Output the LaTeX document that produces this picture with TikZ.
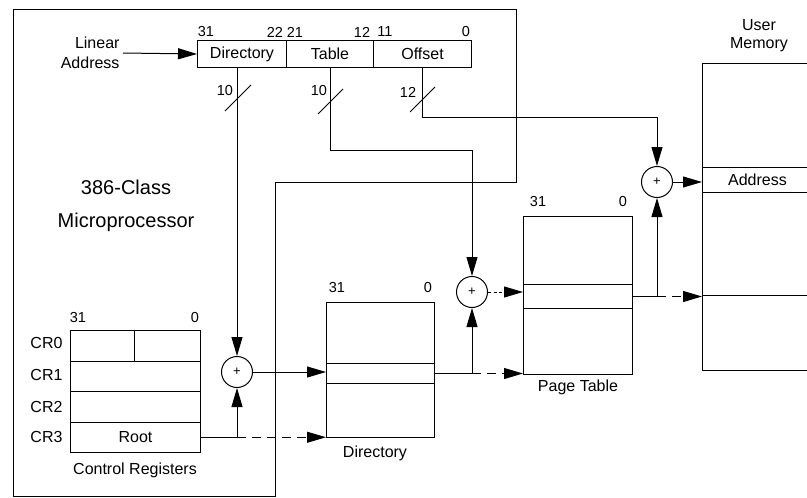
\documentclass[tikz,border=0pt]{standalone}
\usepackage{fontspec}
\setmainfont{Liberation Sans}
\usetikzlibrary{arrows.meta,calc}
\begin{document}
\begin{tikzpicture}[x=1pt,y=-1pt,
  line width=1pt,
  txt/.style={font=\fontsize{16}{18}\selectfont, inner sep=0pt},
  num/.style={font=\fontsize{14.5}{16}\selectfont, inner sep=0pt},
  cell/.style={draw, inner sep=0pt, anchor=north west, font=\fontsize{16}{18}\selectfont},
  sum/.style={draw, circle, minimum size=31pt, inner sep=0pt, font=\fontsize{13}{13}\selectfont},
  arr/.style={-{Triangle[length=19pt,width=11pt]}},
  dsh/.style={dash pattern=on 9pt off 6pt},
  dot/.style={dash pattern=on 3pt off 2.5pt}
]
\useasboundingbox (0,0) rectangle (807,498);
\clip (0,0) rectangle (807,498);

% microprocessor boundary
\draw (13,9) -- (516,9) -- (516,182) -- (275,182) -- (275,496) -- (13,496) -- cycle;
\node[font=\fontsize{20}{33}\selectfont, align=center, inner sep=0pt] (cpu) at (126,206) {386-Class\\Microprocessor};

% linear address
\node[cell, minimum width=89pt, minimum height=27pt] (dir) at (197,40) {Directory};
\node[cell, minimum width=87pt, minimum height=27pt] (tab) at (286,40) {Table};
\node[cell, minimum width=98pt, minimum height=27pt] (off) at (373,40) {Offset};
\node[num] (b31) at (206,32) {31};
\node[num] (b22) at (275,32) {22};
\node[num] (b21) at (295,32) {21};
\node[num] (b12) at (362,32) {12};
\node[num] (b11) at (385,32) {11};
\node[num] (b0) at (466,32) {0};
\node[txt, font=\fontsize{16}{20}\selectfont, align=right, anchor=east] (la) at (120,53) {Linear\\Address};
\draw[arr] ([xshift=3pt]la.east) -- (dir.west);

% adders
\node[sum] (c1) at (237,372) {+};
\node[sum] (c2) at (472,292) {+};
\node[sum] (c3) at (657,182) {+};

% directory field line
\draw[arr] (c1 |- dir.south) -- (c1.north);
\draw (225,111) -- (251,85);
\node[num] (n1) at (225,91) {10};

% table field line
\coordinate (t1) at (330,150);
\draw[arr] (tab.south) -- (tab.south |- t1) -- (c2 |- t1) -- (c2.north);
\draw (318,114) -- (343,89);
\node[num] (n2) at (319,91) {10};

% offset field line
\coordinate (o1) at (423,117);
\draw[arr] (off.south) -- (off.south |- o1) -- (c3 |- o1) -- (c3.north);
\draw (410,112) -- (435,87);
\node[num] (n3) at (408,92) {12};

% control registers
\node[cell, minimum width=64pt, minimum height=30.5pt] (cr0a) at (70,330) {};
\node[cell, minimum width=66pt, minimum height=30.5pt] (cr0b) at (134,330) {};
\node[cell, minimum width=130pt, minimum height=30.5pt] (cr1) at (70,360.5) {};
\node[cell, minimum width=130pt, minimum height=30.5pt] (cr2) at (70,391) {};
\node[cell, minimum width=130pt, minimum height=30.5pt] (cr3) at (70,421.5) {Root};
\node[txt, anchor=east] (l0) at ([xshift=-7pt,yshift=3pt]cr0a.west) {CR0};
\node[txt, anchor=east] (l1) at ([xshift=-7pt,yshift=1pt]cr1.west) {CR1};
\node[txt, anchor=east] (l2) at ([xshift=-7pt]cr2.west) {CR2};
\node[txt, anchor=east] (l3) at ([xshift=-7pt]cr3.west) {CR3};
\node[num] (cr31) at (78,318) {31};
\node[num] (cr00) at (195,318) {0};
\node[txt] (crl) at (135,470) {Control Registers};

% directory
\node[cell, minimum width=108pt, minimum height=61pt] (dtop) at (326,302) {};
\node[cell, minimum width=108pt, minimum height=20pt] (dent) at (326,363) {};
\node[cell, minimum width=108pt, minimum height=54pt] (dbot) at (326,383) {};
\node[num] (d31) at (337,288) {31};
\node[num] (d0) at (428,288) {0};
\node[txt] (dl) at (375,453) {Directory};

% page table
\node[cell, minimum width=109pt, minimum height=68pt] (ptop) at (523,216) {};
\node[cell, minimum width=109pt, minimum height=24pt] (pent) at (523,284) {};
\node[cell, minimum width=109pt, minimum height=66pt] (pbot) at (523,308) {};
\node[num] (p31) at (538,202) {31};
\node[num] (p0) at (623,202) {0};
\node[txt] (pl) at (578,387) {Page Table};

% user memory
\node[cell, minimum width=110pt, minimum height=104pt] (mtop) at (702,63) {};
\node[cell, minimum width=110pt, minimum height=25pt] (maddr) at (702,167) {Address};
\node[cell, minimum width=110pt, minimum height=103pt] (mmid) at (702,192) {};
\node[cell, minimum width=110pt, minimum height=75pt] (mbot) at (702,295) {};
\node[txt, align=center] (ml) at (759,36) {User\\Memory};

% connections
\coordinate (j1) at (c1 |- cr3.east);
\draw (cr3.east) -- (j1);
\draw[arr] (j1) -- (c1.south);
\draw[arr, dsh] (j1) -- (j1 -| dbot.west);
\draw[arr] (c1.east) -- (c1 -| dent.west);

\coordinate (j2) at (c2 |- dent.east);
\draw (dent.east) -- (j2);
\draw[arr] (j2) -- (c2.south);
\draw[arr, dsh] (j2) -- (j2 -| pbot.west);
\draw[arr, dot] (c2.east) -- (c2 -| pent.west);

\coordinate (j3) at (c3 |- pent.east);
\draw (pent.east) -- (j3);
\draw[arr] (j3) -- (c3.south);
\draw[arr, dsh] (j3) -- (j3 -| mbot.west);
\draw[arr] (c3.east) -- (c3 -| maddr.west);
\end{tikzpicture}
\end{document}
